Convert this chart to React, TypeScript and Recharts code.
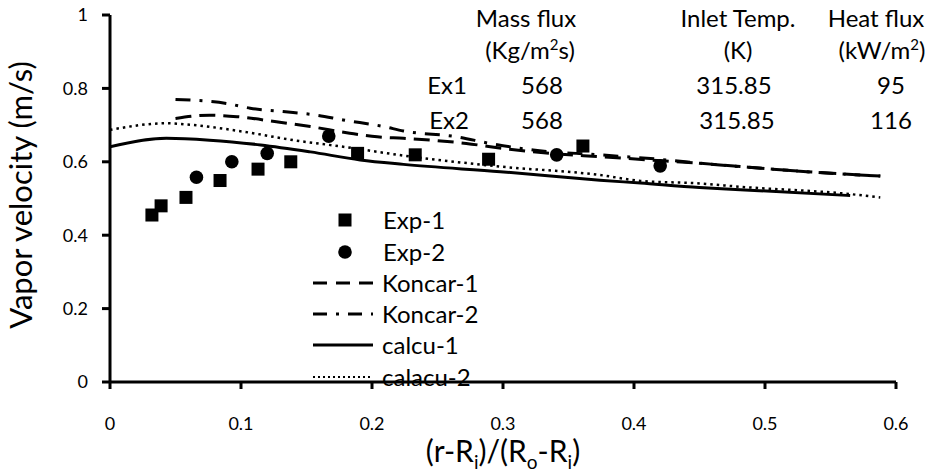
import React from 'react';
import { ComposedChart, Line, Scatter, XAxis, YAxis } from 'recharts';

const xTicks = [0, 0.1, 0.2, 0.3, 0.4, 0.5, 0.6];
const yTicks = [0, 0.2, 0.4, 0.6, 0.8, 1];

const exp1X = [0.032, 0.039, 0.058, 0.084, 0.113, 0.138, 0.189, 0.233, 0.289, 0.361];
const exp1Y = [0.455, 0.48, 0.503, 0.549, 0.58, 0.6, 0.623, 0.619, 0.607, 0.643];

const exp2X = [0.066, 0.093, 0.12, 0.167, 0.341, 0.42];
const exp2Y = [0.558, 0.6, 0.623, 0.67, 0.619, 0.589];

const koncar1X = [0.05, 0.076, 0.097, 0.127, 0.153, 0.183, 0.204, 0.224, 0.272, 0.305, 0.336, 0.374, 0.412, 0.45, 0.481, 0.532, 0.588];
const koncar1Y = [0.718, 0.727, 0.723, 0.709, 0.696, 0.678, 0.668, 0.664, 0.65, 0.634, 0.623, 0.614, 0.605, 0.596, 0.587, 0.573, 0.561];

const koncar2X = [0.05, 0.089, 0.107, 0.132, 0.158, 0.178, 0.209, 0.224, 0.265, 0.29, 0.323, 0.374, 0.425, 0.45, 0.481, 0.532, 0.588];
const koncar2Y = [0.77, 0.759, 0.746, 0.737, 0.727, 0.714, 0.696, 0.684, 0.668, 0.65, 0.632, 0.619, 0.605, 0.596, 0.587, 0.573, 0.561];

const calcu1X = [0, 0.043, 0.076, 0.115, 0.153, 0.191, 0.224, 0.298, 0.374, 0.405, 0.45, 0.481, 0.565];
const calcu1Y = [0.641, 0.664, 0.659, 0.646, 0.627, 0.605, 0.593, 0.573, 0.55, 0.542, 0.53, 0.524, 0.508];

const calcu2X = [0, 0.043, 0.064, 0.102, 0.14, 0.178, 0.224, 0.298, 0.374, 0.405, 0.45, 0.481, 0.565, 0.588];
const calcu2Y = [0.687, 0.705, 0.7, 0.682, 0.659, 0.641, 0.617, 0.587, 0.564, 0.548, 0.541, 0.532, 0.512, 0.503];

const seriesNames = ['Exp-1', 'Exp-2', 'Koncar-1', 'Koncar-2', 'calcu-1', 'calacu-2'];
const headerRow1 = ['Mass flux', 'Inlet Temp.', 'Heat flux'];
const rowLabels = ['Ex1', 'Ex2'];
const massFlux = ['568', '568'];
const inletTemp = ['315.85', '315.85'];
const heatFlux = ['95', '116'];

const zip = (xs: number[], ys: number[]) => xs.map((x, i) => ({ x, y: ys[i] }));

const FONT = 'Lato, "Open Sans", sans-serif';

const SquareShape = (p: any) => (
  <rect x={p.cx - 6.5} y={p.cy - 6.5} width={13} height={13} fill="#000" />
);
const CircleShape = (p: any) => <circle cx={p.cx} cy={p.cy} r={6.8} fill="#000" />;

export default function App() {
  const txt = { fontFamily: FONT, fontSize: 24, fill: '#000' } as const;
  const rowY = [94, 129];
  const legY = [220, 252, 283, 314, 345, 377];
  return (
    <div style={{ position: 'absolute', left: 0, top: 0, width: 943, height: 475, background: '#fff' }}>
      <ComposedChart width={943} height={475} margin={{ top: 15, right: 47, bottom: 0, left: 0 }}>
        <XAxis
          type="number"
          dataKey="x"
          domain={[0, 0.6]}
          ticks={xTicks}
          height={93}
          tickSize={7}
          tickMargin={28}
          allowDataOverflow
          axisLine={{ stroke: '#000', strokeWidth: 3 }}
          tickLine={{ stroke: '#000', strokeWidth: 3 }}
          tick={{ fill: '#000', fontSize: 18, fontFamily: FONT }}
        />
        <YAxis
          type="number"
          dataKey="y"
          domain={[0, 1]}
          ticks={yTicks}
          width={110}
          tickSize={8}
          tickMargin={14}
          allowDataOverflow
          axisLine={{ stroke: '#000', strokeWidth: 3 }}
          tickLine={{ stroke: '#000', strokeWidth: 3 }}
          tick={{ fill: '#000', fontSize: 18, fontFamily: FONT }}
        />
        <Line data={zip(calcu1X, calcu1Y)} dataKey="y" type="monotone" stroke="#000" strokeWidth={3} dot={false} isAnimationActive={false} />
        <Line data={zip(calcu2X, calcu2Y)} dataKey="y" type="monotone" stroke="#000" strokeWidth={2.5} strokeDasharray="2.5 4" dot={false} isAnimationActive={false} />
        <Line data={zip(koncar1X, koncar1Y)} dataKey="y" type="monotone" stroke="#000" strokeWidth={3} strokeDasharray="16 8" dot={false} isAnimationActive={false} />
        <Line data={zip(koncar2X, koncar2Y)} dataKey="y" type="monotone" stroke="#000" strokeWidth={3} strokeDasharray="15 9 3 9" dot={false} isAnimationActive={false} />
        <Scatter data={zip(exp1X, exp1Y)} dataKey="y" shape={SquareShape} isAnimationActive={false} />
        <Scatter data={zip(exp2X, exp2Y)} dataKey="y" shape={CircleShape} isAnimationActive={false} />
      </ComposedChart>
      <svg width={943} height={475} style={{ position: 'absolute', left: 0, top: 0, pointerEvents: 'none' }}>
        {/* axis titles */}
        <text x={32} y={195} transform="rotate(-90 32 195)" textAnchor="middle" style={{ ...txt, fontSize: 31 }}>
          Vapor velocity (m/s)
        </text>
        <text x={503} y={462} textAnchor="middle" style={{ ...txt, fontSize: 30 }}>
          (r-R<tspan dy={7} fontSize={19}>i</tspan>
          <tspan dy={-7}>)/(R</tspan>
          <tspan dy={7} fontSize={19}>o</tspan>
          <tspan dy={-7}>-R</tspan>
          <tspan dy={7} fontSize={19}>i</tspan>
          <tspan dy={-7}>)</tspan>
        </text>
        {/* table */}
        <text x={526} y={27} textAnchor="middle" style={txt}>{headerRow1[0]}</text>
        <text x={738} y={27} textAnchor="middle" style={txt}>{headerRow1[1]}</text>
        <text x={876} y={27} textAnchor="middle" style={txt}>{headerRow1[2]}</text>
        <text x={530} y={59} textAnchor="middle" style={txt}>
          (Kg/m<tspan dy={-9} fontSize={15}>2</tspan>
          <tspan dy={9}>s)</tspan>
        </text>
        <text x={738} y={59} textAnchor="middle" style={txt}>(K)</text>
        <text x={882} y={59} textAnchor="middle" style={txt}>
          (kW/m<tspan dy={-9} fontSize={15}>2</tspan>
          <tspan dy={9}>)</tspan>
        </text>
        {rowLabels.map((r, i) => (
          <g key={r}>
            <text x={447 + i * 2} y={rowY[i]} textAnchor="middle" style={txt}>{r}</text>
            <text x={542} y={rowY[i]} textAnchor="middle" style={txt}>{massFlux[i]}</text>
            <text x={734 + i * 3} y={rowY[i]} textAnchor="middle" style={txt}>{inletTemp[i]}</text>
            <text x={891} y={rowY[i]} textAnchor="middle" style={txt}>{heatFlux[i]}</text>
          </g>
        ))}
        {/* legend */}
        <rect x={338.5} y={legY[0] - 6.5} width={13} height={13} fill="#000" />
        <text x={383} y={legY[0] + 8.5} style={txt}>{seriesNames[0]}</text>
        <circle cx={345} cy={legY[1]} r={6.8} fill="#000" />
        <text x={383} y={legY[1] + 8.5} style={txt}>{seriesNames[1]}</text>
        <line x1={313} x2={373} y1={legY[2]} y2={legY[2]} stroke="#000" strokeWidth={3} strokeDasharray="14 9" />
        <text x={382} y={legY[2] + 8.5} style={txt}>{seriesNames[2]}</text>
        <line x1={313} x2={373} y1={legY[3]} y2={legY[3]} stroke="#000" strokeWidth={3} strokeDasharray="14 9 3 9" />
        <text x={382} y={legY[3] + 8.5} style={txt}>{seriesNames[3]}</text>
        <line x1={313} x2={373} y1={legY[4]} y2={legY[4]} stroke="#000" strokeWidth={3} />
        <text x={382} y={legY[4] + 8.5} style={txt}>{seriesNames[4]}</text>
        <line x1={313} x2={373} y1={legY[5]} y2={legY[5]} stroke="#000" strokeWidth={2} strokeDasharray="2 3" />
        <text x={382} y={legY[5] + 8.5} style={txt}>{seriesNames[5]}</text>
      </svg>
    </div>
  );
}
